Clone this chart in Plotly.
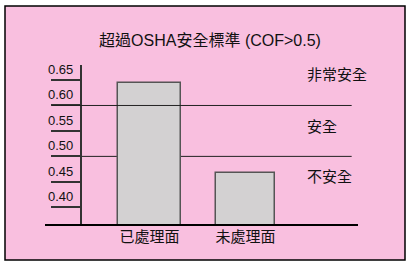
import plotly.graph_objects as go

# --- data -------------------------------------------------------------
categories = ["已處理面", "未處理面"]
cof_values = [0.645, 0.467]
tick_values = [0.40, 0.45, 0.50, 0.55, 0.60, 0.65]
tick_labels = ["0.40", "0.45", "0.50", "0.55", "0.60", "0.65"]
thresholds = [0.50, 0.60]
zone_labels = ["非常安全", "安全", "不安全"]
zone_label_y = [0.6637, 0.5616, 0.4634]
title_text = "超過OSHA安全標準 (COF>0.5)"

# --- geometry ---------------------------------------------------------
W, H = 410, 267
ML, MR, MT, MB = 45, 52, 65, 43
PW, PH = W - ML - MR, H - MT - MB

CJK = "Noto Sans CJK TC, Noto Sans CJK SC, sans-serif"
MIXED = "Liberation Sans, Noto Sans CJK TC, sans-serif"
LATIN = "Liberation Sans, Arial, sans-serif"
PINK = "#F9BFDF"


def px_to_paper_x(px):
    return (px - ML) / PW


def px_to_paper_y(py):
    return 1 - (py - MT) / PH


fig = go.Figure()

fig.add_trace(go.Bar(
    x=categories,
    y=cof_values,
    width=[0.657, 0.62],
    marker=dict(color="#D3D1D2", line=dict(color="#555555", width=1.5)),
    hoverinfo="skip",
))

shapes = [
    # pink panel with black frame
    dict(type="rect", xref="paper", yref="paper",
         x0=px_to_paper_x(5), x1=px_to_paper_x(405),
         y0=px_to_paper_y(260), y1=px_to_paper_y(6),
         fillcolor=PINK, line=dict(color="black", width=1.5), layer="below"),
]
for t in thresholds:
    shapes.append(dict(
        type="line", xref="x", yref="y", x0=-1.017, x1=2.108, y0=t, y1=t,
        line=dict(color="#222222", width=1),
        layer="above" if t > 0.55 else "below",
    ))

annotations = [
    dict(text=lab, x=1.621, y=yv, xref="x", yref="y", xanchor="left",
         yanchor="middle", showarrow=False,
         font=dict(family=CJK, size=15, color="#111111"))
    for lab, yv in zip(zone_labels, zone_label_y)
]

fig.update_layout(
    width=W, height=H,
    margin=dict(l=ML, r=MR, t=MT, b=MB, pad=0),
    paper_bgcolor="white",
    plot_bgcolor="rgba(0,0,0,0)",
    showlegend=False,
    bargap=0,
    title=dict(text=title_text, x=210 / W, y=1 - 40 / H,
               xanchor="center", yanchor="middle", xref="container", yref="container",
               font=dict(family=MIXED, size=16, color="#111111")),
    shapes=shapes,
    annotations=annotations,
    xaxis=dict(
        type="category", range=[-1.0897, 2.174],
        showline=True, linecolor="black", linewidth=1.5,
        showgrid=False, zeroline=False, ticks="",
        ticklabelstandoff=-2,
        tickfont=dict(family=CJK, size=15, color="#111111"),
    ),
    yaxis=dict(
        range=[0.3672, 0.6795],
        anchor="free", position=px_to_paper_x(80.7),
        showline=True, linecolor="#333333", linewidth=1.5,
        showgrid=False, zeroline=False,
        tickmode="array", tickvals=tick_values, ticktext=tick_labels,
        ticks="outside", ticklen=29, tickwidth=1.5, tickcolor="#333333",
        ticklabelposition="outside top",
        ticklabelstandoff=4, ticklabelshift=-1,
        tickfont=dict(family=LATIN, size=13, color="#111111"),
    ),
)

fig.write_html("out.html")
